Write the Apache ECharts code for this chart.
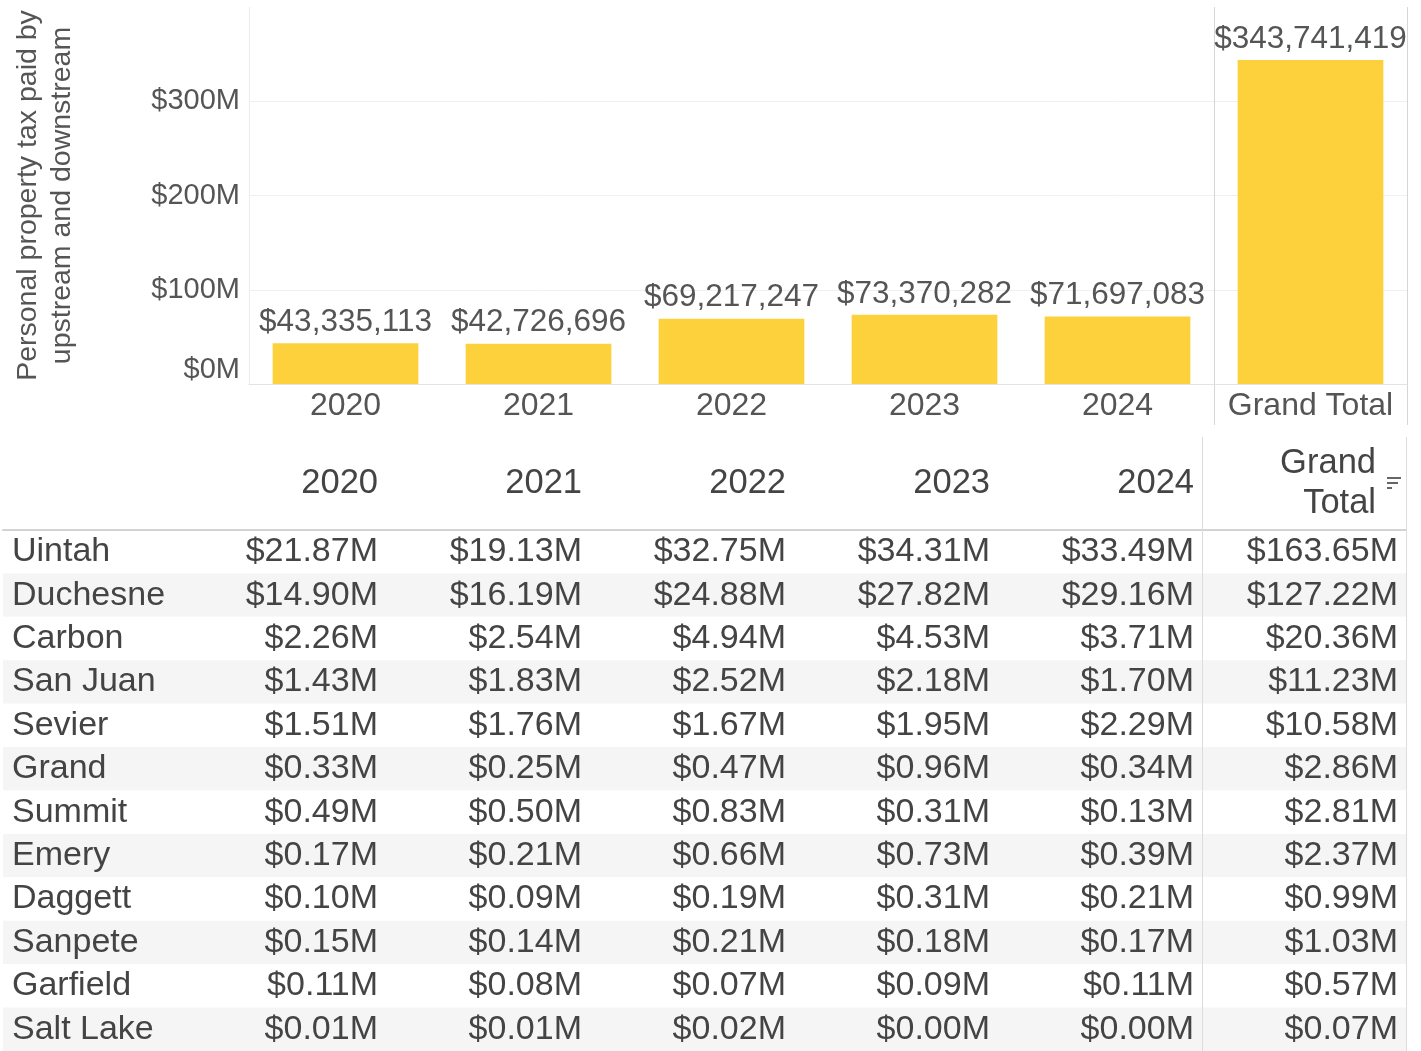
<!DOCTYPE html>
<html>
<head>
<meta charset="utf-8">
<script src="https://cdn.jsdelivr.net/npm/echarts@6/dist/echarts.min.js"></script>
<style>
  html, body { margin: 0; padding: 0; background: #fff; }
  #chart { width: 1421px; height: 1051px; }
</style>
</head>
<body>
<div id="chart"></div>
<script>
// bar chart data
const barCategories = ['2020', '2021', '2022', '2023', '2024', 'Grand Total']
const yearTotals = [43335113, 42726696, 69217247, 73370282, 71697083]
const grandTotal = 343741419

// table data ($M)
const columns = ['2020', '2021', '2022', '2023', '2024', 'Grand Total']
const counties = ['Uintah', 'Duchesne', 'Carbon', 'San Juan', 'Sevier', 'Grand',
  'Summit', 'Emery', 'Daggett', 'Sanpete', 'Garfield', 'Salt Lake']
const tax2020 = [21.87, 14.90, 2.26, 1.43, 1.51, 0.33, 0.49, 0.17, 0.10, 0.15, 0.11, 0.01]
const tax2021 = [19.13, 16.19, 2.54, 1.83, 1.76, 0.25, 0.50, 0.21, 0.09, 0.14, 0.08, 0.01]
const tax2022 = [32.75, 24.88, 4.94, 2.52, 1.67, 0.47, 0.83, 0.66, 0.19, 0.21, 0.07, 0.02]
const tax2023 = [34.31, 27.82, 4.53, 2.18, 1.95, 0.96, 0.31, 0.73, 0.31, 0.18, 0.09, 0.00]
const tax2024 = [33.49, 29.16, 3.71, 1.70, 2.29, 0.34, 0.13, 0.39, 0.21, 0.17, 0.11, 0.00]
const taxTotal = [163.65, 127.22, 20.36, 11.23, 10.58, 2.86, 2.81, 2.37, 0.99, 1.03, 0.57, 0.07]

const FONT = '"Liberation Sans", Arial, sans-serif'
const chart = echarts.init(document.getElementById('chart'))

const tableCols = [tax2020, tax2021, tax2022, tax2023, tax2024, taxTotal]
const cellData = []
tableCols.forEach((col, c) => {
  col.forEach((v, r) => cellData.push([c, r, v]))
})

function withCommas(n) {
  return String(n).replace(/\B(?=(\d{3})+(?!\d))/g, ',')
}

// 表格分隔线：左边界(透明)、Grand Total 前、右边界
const sepInterval = (index) => index === 0 || index === 5

const option = {
  animation: false,
  textStyle: { fontFamily: FONT },
  grid: [
    { left: 249, right: 14, top: 7, bottom: 667 },
    { left: 249, right: 14, top: 384, height: 41 },
    { left: 182, right: 15, top: 437, height: 93 },
    { left: 3, right: 15, top: 530, height: 521 },
    { left: 182, right: 15, top: 530, height: 521 }
  ],
  xAxis: [
    {
      gridIndex: 0, type: 'category', data: barCategories,
      axisLine: { lineStyle: { color: '#e3e3e3' } },
      axisTick: { interval: 0, length: 8, lineStyle: { color: '#e3e3e3' } },
      axisLabel: { interval: 0, margin: 6, fontSize: 32, color: '#555', fontFamily: FONT },
      splitLine: { show: true, interval: sepInterval, lineStyle: { color: ['#ececec', '#d6d6d6', '#d6d6d6'] } }
    },
    {
      gridIndex: 1, type: 'category', data: barCategories,
      axisLine: { show: false }, axisTick: { show: false }, axisLabel: { show: false },
      splitLine: { show: true, interval: sepInterval, lineStyle: { color: ['rgba(0,0,0,0)', '#d6d6d6', '#d6d6d6'] } }
    },
    {
      gridIndex: 2, type: 'category', data: columns, z: 3,
      axisLine: { show: false }, axisTick: { show: false }, axisLabel: { show: false },
      splitLine: { show: true, interval: sepInterval, lineStyle: { color: ['rgba(0,0,0,0)', '#dcdcdc', '#dcdcdc'] } }
    },
    {
      gridIndex: 3, type: 'value', position: 'top', min: 0, max: 1,
      axisLine: { show: true, lineStyle: { color: '#d3d3d3', width: 2 } },
      axisTick: { show: false }, axisLabel: { show: false }, splitLine: { show: false }
    },
    {
      gridIndex: 4, type: 'category', data: columns, z: 3,
      axisLine: { show: false }, axisTick: { show: false }, axisLabel: { show: false },
      splitLine: { show: true, interval: sepInterval, lineStyle: { color: ['rgba(0,0,0,0)', '#dcdcdc', '#dcdcdc'] } }
    }
  ],
  yAxis: [
    {
      gridIndex: 0, type: 'value', min: 0, max: 400e6, interval: 100e6,
      name: 'Personal property tax paid by\nupstream and downstream',
      nameLocation: 'middle', nameGap: 170,
      nameTextStyle: { fontSize: 28.5, lineHeight: 34, color: '#555', fontFamily: FONT },
      axisLine: { show: false }, axisTick: { show: false },
      axisLabel: {
        margin: 9, fontSize: 29, color: '#555', fontFamily: FONT, showMaxLabel: false,
        verticalAlignMinLabel: 'bottom',
        formatter: (v) => '$' + v / 1e6 + 'M'
      },
      splitLine: { showMaxLine: false, showMinLine: false, lineStyle: { color: '#f0f0f0' } }
    },
    { gridIndex: 1, type: 'value', show: false },
    { gridIndex: 2, type: 'category', data: ['header'], show: false },
    {
      gridIndex: 3, type: 'category', data: counties, inverse: true,
      axisLine: { show: false }, axisTick: { show: false },
      axisLabel: { inside: true, interval: 0, margin: 9, fontSize: 34, color: '#444', fontFamily: FONT },
      splitLine: { show: false },
      splitArea: { show: true, interval: 0, areaStyle: { color: ['#ffffff', '#f5f5f5'] } }
    },
    { gridIndex: 4, type: 'category', data: counties, inverse: true, show: false }
  ],
  series: [
    {
      type: 'bar', xAxisIndex: 0, yAxisIndex: 0,
      data: yearTotals.concat([grandTotal]),
      barWidth: '75.5%',
      itemStyle: { color: '#fdd13c' },
      label: {
        show: true, position: 'top', distance: 5,
        fontSize: 31.5, color: '#555', fontFamily: FONT,
        formatter: (p) => '$' + withCommas(p.value)
      }
    },
    {
      type: 'custom', xAxisIndex: 2, yAxisIndex: 2,
      data: columns.map((c, i) => [i, 0]),
      renderItem: function (params, api) {
        const i = api.value(0)
        const pt = api.coord([i, 0])
        const size = api.size([1, 1])
        const isTotal = columns[i] === 'Grand Total'
        return {
          type: 'text',
          x: pt[0] + size[0] / 2 - (isTotal ? 30 : 8),
          y: pt[1],
          style: {
            text: isTotal ? 'Grand\nTotal' : columns[i],
            font: '34.5px ' + FONT, lineHeight: 40, fill: '#444',
            textAlign: 'right', textVerticalAlign: 'middle',
            align: 'right', verticalAlign: 'middle'
          }
        }
      }
    },
    {
      type: 'custom', xAxisIndex: 4, yAxisIndex: 4,
      data: cellData,
      renderItem: function (params, api) {
        const pt = api.coord([api.value(0), api.value(1)])
        const size = api.size([1, 1])
        return {
          type: 'text',
          x: pt[0] + size[0] / 2 - 8,
          y: pt[1],
          style: {
            text: '$' + api.value(2).toFixed(2) + 'M',
            font: '34px ' + FONT, fill: '#444',
            textAlign: 'right', textVerticalAlign: 'middle',
            align: 'right', verticalAlign: 'middle'
          }
        }
      }
    }
  ],
  // 排序图标
  graphic: [
    {
      type: 'group', left: 1387, top: 477,
      children: [
        { type: 'rect', shape: { x: 0, y: 0, width: 14, height: 2 }, style: { fill: '#666' } },
        { type: 'rect', shape: { x: 0, y: 5, width: 11, height: 2 }, style: { fill: '#666' } },
        { type: 'rect', shape: { x: 0, y: 10, width: 5, height: 2 }, style: { fill: '#666' } }
      ]
    }
  ]
}

chart.setOption(option)
</script>
</body>
</html>
